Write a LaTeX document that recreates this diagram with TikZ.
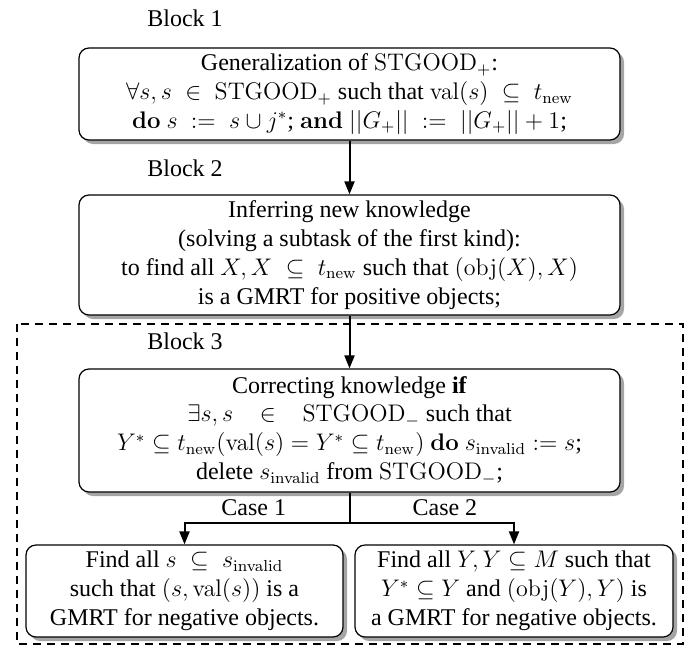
\documentclass[tikz,border=0pt]{standalone}
\usepackage[no-math]{fontspec}
\setmainfont{Liberation Serif}
\usetikzlibrary{arrows.meta,shadows}

\definecolor{shadowgray}{RGB}{165,165,165}

\tikzset{
  every node/.style={font=\fontsize{12}{14.4}\selectfont},
  blockbox/.style={draw, line width=0.6pt, rounded corners=5pt, fill=white,
    align=center, inner sep=2pt,
    drop shadow={shadow xshift=2pt, shadow yshift=-2pt, fill=shadowgray, opacity=1}},
  blocklabel/.style={anchor=west, inner sep=0pt},
  flowarrow/.style={line width=1pt, -{Triangle[length=6.5pt,width=5pt]}},
}

\begin{document}
\begin{tikzpicture}[x=0.5pt, y=-0.5pt]
\useasboundingbox (0,0) rectangle (689,647);

% block 3 frame
\draw [line width=1pt, dash pattern=on 4pt off 3pt] (17,324) rectangle (683,644);

\node [blocklabel] (labone) at (147,18) {Block 1};
\node [blocklabel] (labtwo) at (147,168) {Block 2};
\node [blocklabel] (labthree) at (147,341) {Block 3};

\node [blockbox, minimum width=270.5pt, minimum height=46pt] (gen) at (349.5,94) {%
  Generalization of $\mathrm{STGOOD}_{+}$:\\
  $\forall s, s \;\in\; \mathrm{STGOOD}_{+}$ such that $\mathrm{val}(s) \;\subseteq\; t_{\mathrm{new}}$\\
  $\mathbf{do}$ $s \;:=\; s\cup j^{*}$; $\mathbf{and}$ $||G_{+}|| \;:=\; ||G_{+}|| + 1$;};

\node [blockbox, minimum width=270.5pt, minimum height=60pt] (infer) at (349.5,255) {%
  Inferring new knowledge\\
  (solving a subtask of the first kind):\\
  to find all $X, X \;\subseteq\; t_{\mathrm{new}}$ such that $(\mathrm{obj}(X), X)$\\
  is a GMRT for positive objects;};

\node [blockbox, minimum width=270.5pt, minimum height=61.5pt] (correct) at (349.5,430.5) {%
  Correcting knowledge \textbf{if}\\
  $\exists s, s \;\;\;\in\;\;\; \mathrm{STGOOD}_{-}$ such that\\
  $Y^{*} \subseteq t_{\mathrm{new}}(\mathrm{val}(s) = Y^{*} \subseteq t_{\mathrm{new}})$ $\mathbf{do}$ $s_{\mathrm{invalid}} := s$;\\
  delete $s_{\mathrm{invalid}}$ from $\mathrm{STGOOD}_{-}$;};

\node [blockbox, minimum width=158.5pt, minimum height=46pt] (caseone) at (184.5,591) {%
  Find all $s \;\subseteq\; s_{\mathrm{invalid}}$\\
  such that $(s, \mathrm{val}(s))$ is a\\
  GMRT for negative objects.};

\node [blockbox, minimum width=159pt, minimum height=46pt] (casetwo) at (514,591) {%
  Find all $Y, Y \subseteq M$ such that\\
  $Y^{*} \subseteq Y$ and $(\mathrm{obj}(Y), Y)$ is\\
  a GMRT for negative objects.};

\coordinate (split) at (349.5,523);

\draw [flowarrow] (gen) -- (infer);
\draw [flowarrow] (infer) -- (correct);
\draw [line width=1pt] (correct) -- (split);
\draw [flowarrow] (split) -| node [pos=0.29, above] {Case 1} (caseone);
\draw [flowarrow] (split) -| node [pos=0.29, above] {Case 2} (casetwo);
\end{tikzpicture}
\end{document}
